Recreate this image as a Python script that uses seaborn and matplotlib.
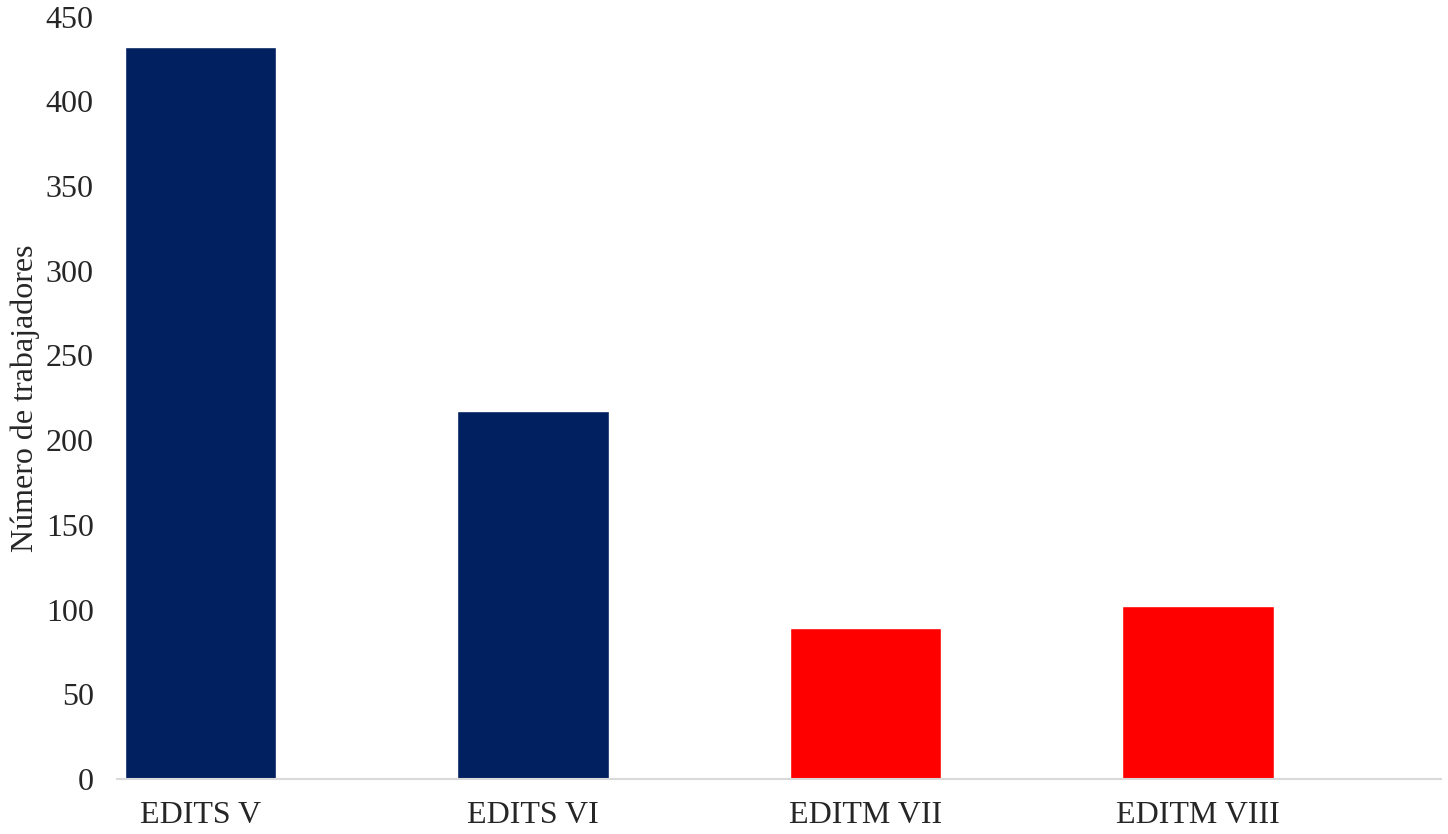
import matplotlib
matplotlib.use("Agg")
import matplotlib.pyplot as plt
import seaborn as sns
import pandas as pd

ediciones = ["EDITS V", "EDITS VI", "EDITM VII", "EDITM VIII"]
trabajadores = [432, 217, 89, 102]
colores = ["#002060", "#002060", "#FF0000", "#FF0000"]

df = pd.DataFrame({"edicion": ediciones, "n": trabajadores})

sns.set_style("white")
plt.rcParams["font.family"] = ["Liberation Serif", "DejaVu Serif"]

fig = plt.figure(figsize=(14.48, 8.34), dpi=100)
ax = fig.add_axes([0.081, 0.066, 0.914, 0.914])

sns.barplot(data=df, x="edicion", y="n", hue="edicion", palette=colores,
            width=0.455, saturation=1, legend=False, ax=ax)

ax.set_xlim(-0.25, 3.73)
ax.set_ylim(0, 450)
ax.set_yticks(range(0, 451, 50))
ax.set_xlabel("")
ax.set_ylabel("Número de trabajadores", fontsize=23, labelpad=4)
ax.tick_params(axis="both", length=0, labelsize=23)
ax.tick_params(axis="x", pad=16)
ax.tick_params(axis="y", pad=17)

for s in ["top", "right", "left"]:
    ax.spines[s].set_visible(False)
ax.spines["bottom"].set_color("#d9d9d9")
ax.spines["bottom"].set_linewidth(1.5)

fig.savefig("out.png", dpi=100)
